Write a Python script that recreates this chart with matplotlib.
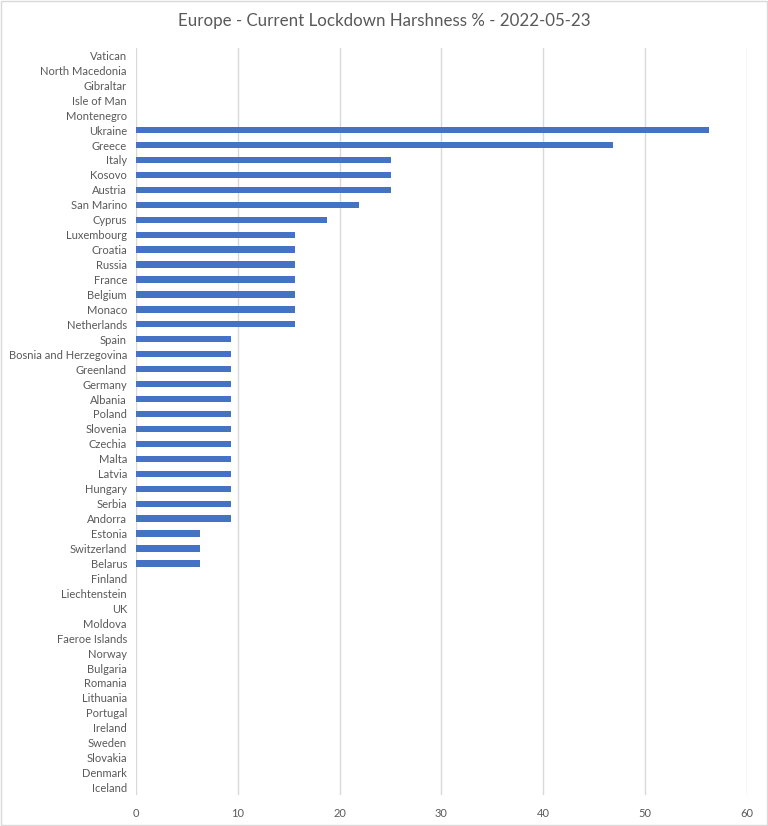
import matplotlib
matplotlib.use("Agg")
import matplotlib.pyplot as plt
from matplotlib.patches import Rectangle

countries = [
    "Vatican", "North Macedonia", "Gibraltar", "Isle of Man", "Montenegro",
    "Ukraine", "Greece", "Italy", "Kosovo", "Austria", "San Marino", "Cyprus",
    "Luxembourg", "Croatia", "Russia", "France", "Belgium", "Monaco",
    "Netherlands", "Spain", "Bosnia and Herzegovina", "Greenland", "Germany",
    "Albania", "Poland", "Slovenia", "Czechia", "Malta", "Latvia", "Hungary",
    "Serbia", "Andorra", "Estonia", "Switzerland", "Belarus", "Finland",
    "Liechtenstein", "UK", "Moldova", "Faeroe Islands", "Norway", "Bulgaria",
    "Romania", "Lithuania", "Portugal", "Ireland", "Sweden", "Slovakia",
    "Denmark", "Iceland",
]
harshness = [
    0, 0, 0, 0, 0,
    56.25, 46.88, 25, 25, 25, 21.88, 18.75,
    15.63, 15.63, 15.63, 15.63, 15.63, 15.63,
    15.63, 9.38, 9.38, 9.38, 9.38,
    9.38, 9.38, 9.38, 9.38, 9.38, 9.38, 9.38,
    9.38, 9.38, 6.25, 6.25, 6.25, 0,
    0, 0, 0, 0, 0, 0,
    0, 0, 0, 0, 0, 0,
    0, 0,
]
xticks = [0, 10, 20, 30, 40, 50, 60]

plt.rcParams['font.family'] = ['Lato', 'DejaVu Sans']
text_col = "#595959"

fig = plt.figure(figsize=(7.68, 8.26), dpi=100)
ax = fig.add_axes([0.177, 0.0375, 0.7957, 0.9045])

pos = list(range(len(countries)))
ax.barh(pos, harshness, height=0.42, color="#4472C4", zorder=3)
ax.set_ylim(len(countries) - 0.5, -0.5)
ax.set_xlim(0, 60)
ax.set_xticks(xticks)
ax.set_yticks(pos)
ax.set_yticklabels(countries)
ax.tick_params(axis='both', length=0, colors=text_col, labelsize=8)
ax.tick_params(axis='x', pad=9)
ax.tick_params(axis='y', pad=6.5)
ax.grid(axis='x', color="#D9D9D9", linewidth=1, zorder=0)
for s in ax.spines.values():
    s.set_visible(False)

fig.text(0.5, 0.974, "Europe - Current Lockdown Harshness % - 2022-05-23",
         ha='center', va='center', fontsize=12.2, color=text_col)

fig.patches.append(Rectangle((0.001, 0.001), 0.998, 0.998, transform=fig.transFigure,
                             fill=False, edgecolor="#D9D9D9", linewidth=1))

fig.savefig("out.png", dpi=100)
